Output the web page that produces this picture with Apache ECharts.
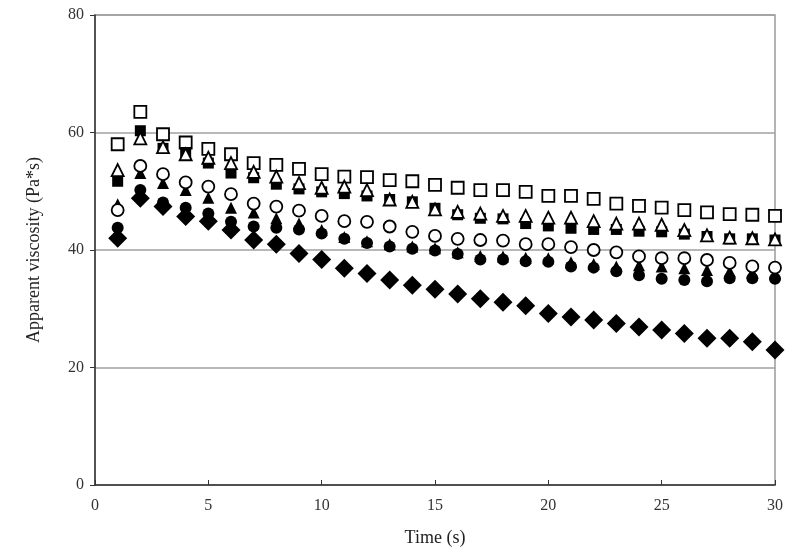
<!DOCTYPE html>
<html>
<head>
<meta charset="utf-8">
<script src="https://cdn.jsdelivr.net/npm/echarts@6/dist/echarts.min.js"></script>
<style>
html,body{margin:0;padding:0;background:#fff;}
#chart{width:788px;height:558px;}
</style>
</head>
<body>
<div id="chart"></div>
<script>
const time = [1,2,3,4,5,6,7,8,9,10,11,12,13,14,15,16,17,18,19,20,21,22,23,24,25,26,27,28,29,30];
const openSquare = [58.0,63.5,59.7,58.3,57.2,56.3,54.8,54.5,53.8,52.9,52.5,52.4,51.9,51.7,51.1,50.6,50.2,50.2,49.9,49.2,49.2,48.7,47.9,47.5,47.2,46.8,46.4,46.1,46.0,45.8];
const filledSquare = [51.7,60.3,57.3,56.6,54.8,53.1,52.3,51.2,50.4,49.9,49.6,49.2,48.6,48.2,47.1,46.0,45.4,45.3,44.5,44.1,43.7,43.5,43.5,43.2,43.1,42.7,42.3,41.9,41.9,41.7];
const openTriangle = [53.6,59.0,57.5,56.3,55.7,54.8,53.3,52.5,51.4,50.6,50.8,50.2,48.6,48.2,46.9,46.5,46.2,45.8,45.8,45.5,45.5,44.9,44.5,44.5,44.3,43.4,42.5,42.1,42.0,41.8];
const filledTriangle = [47.8,53.1,51.4,50.2,48.9,47.2,46.4,45.4,44.5,43.4,42.2,41.5,41.0,40.6,40.3,39.6,39.0,38.9,38.7,38.6,37.9,37.6,37.2,37.4,37.2,36.9,36.6,36.4,36.2,36.0];
const openCircle = [46.8,54.3,52.9,51.5,50.8,49.5,47.9,47.4,46.7,45.8,44.9,44.8,44.0,43.1,42.4,41.9,41.7,41.6,41.0,41.0,40.5,40.0,39.6,38.9,38.6,38.6,38.3,37.8,37.2,37.0];
const filledCircle = [43.8,50.2,48.1,47.2,46.2,44.8,44.0,43.8,43.5,42.8,41.9,41.2,40.6,40.2,39.9,39.3,38.4,38.4,38.1,38.0,37.2,37.0,36.4,35.7,35.1,34.9,34.7,35.2,35.2,35.1];
const filledDiamond = [42.0,48.8,47.4,45.7,44.9,43.4,41.7,41.0,39.4,38.4,36.9,36.0,34.9,34.0,33.3,32.5,31.7,31.1,30.5,29.2,28.6,28.1,27.5,26.9,26.4,25.8,25.0,25.0,24.4,23.0];
const xTicks = [0,5,10,15,20,25,30];
const yTicks = [0,20,40,60,80];

const pair = arr => time.map((t,i)=>[t,arr[i]]);
const openStyle = {color:'#ffffff', borderColor:'#000000', borderWidth:1.8, opacity:1};
const fillStyle = {color:'#000000', opacity:1};

const chart = echarts.init(document.getElementById('chart'), null, {renderer:'canvas'});
chart.setOption({
  animation:false,
  backgroundColor:'#ffffff',
  grid:{left:95, right:13, top:15, bottom:73, show:true, borderColor:'#9a9a9a', borderWidth:1.5, backgroundColor:'transparent'},
  xAxis:{
    type:'value', min:xTicks[0], max:xTicks[xTicks.length-1], interval:5,
    name:'Time (s)', nameLocation:'middle', nameGap:44,
    nameTextStyle:{fontFamily:'Liberation Serif', fontSize:18, color:'#222'},
    axisLine:{show:true, onZero:false, lineStyle:{color:'#333', width:1.5}},
    axisTick:{show:true, inside:true, length:5, lineStyle:{color:'#333', width:1}},
    axisLabel:{fontFamily:'Liberation Serif', fontSize:16, color:'#333', margin:13},
    splitLine:{show:false}
  },
  yAxis:{
    type:'value', min:yTicks[0], max:yTicks[yTicks.length-1], interval:20,
    name:'Apparent viscosity (Pa*s)', nameLocation:'middle', nameGap:52,
    nameTextStyle:{fontFamily:'Liberation Serif', fontSize:18, color:'#222'},
    axisLine:{show:true, onZero:false, lineStyle:{color:'#333', width:1.5}},
    axisTick:{show:true, inside:false, length:5, lineStyle:{color:'#333', width:1}},
    axisLabel:{fontFamily:'Liberation Serif', fontSize:16, color:'#333', margin:11},
    splitLine:{show:true, lineStyle:{color:'#a0a0a0', width:1.5}}
  },
  series:[
    {type:'scatter', data:pair(openSquare), symbol:'rect', symbolSize:12, itemStyle:openStyle},
    {type:'scatter', data:pair(filledSquare), symbol:'rect', symbolSize:11, itemStyle:fillStyle},
    {type:'scatter', data:pair(openTriangle), symbol:'triangle', symbolSize:12, itemStyle:openStyle},
    {type:'scatter', data:pair(filledTriangle), symbol:'triangle', symbolSize:12, itemStyle:fillStyle},
    {type:'scatter', data:pair(openCircle), symbol:'circle', symbolSize:12, itemStyle:openStyle},
    {type:'scatter', data:pair(filledCircle), symbol:'circle', symbolSize:12, itemStyle:fillStyle},
    {type:'scatter', data:pair(filledDiamond), symbol:'diamond', symbolSize:[19,19], itemStyle:fillStyle}
  ]
});
</script>
</body>
</html>
